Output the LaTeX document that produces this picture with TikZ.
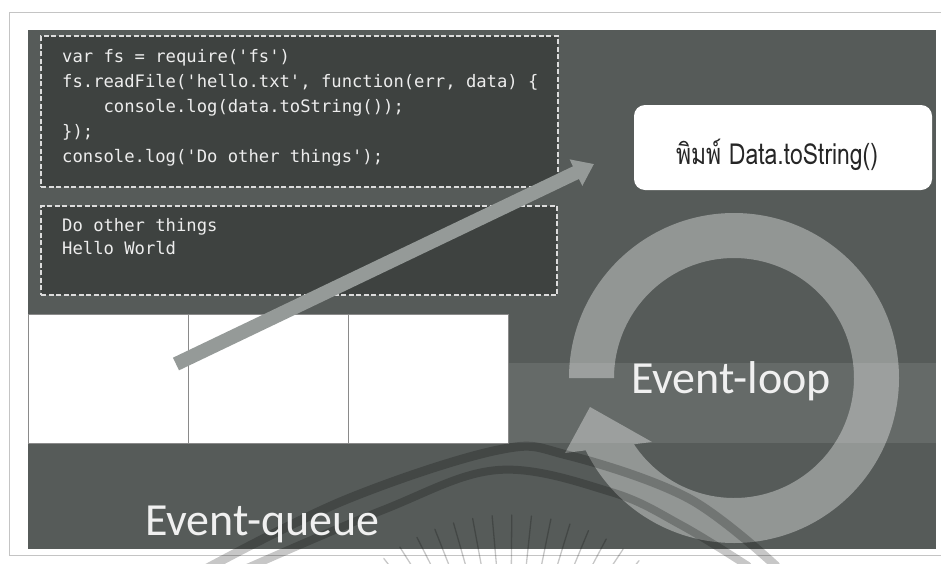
\documentclass[tikz,border=0pt]{standalone}
\usepackage{fontspec}
\usepackage{graphicx}
\usetikzlibrary{arrows.meta,calc}

\newfontfamily\codefont{DejaVu Sans Mono}
\newfontfamily\labelfont{Carlito}
\newfontfamily\thaifont[Script=Thai]{Loma}

\definecolor{slidebg}{HTML}{565B59}
\definecolor{boxbg}{HTML}{3E4240}
\definecolor{bandbg}{HTML}{656A68}
\definecolor{dashcol}{HTML}{DCDCDC}
\definecolor{codecol}{HTML}{EDEDED}
\definecolor{arrowcol}{HTML}{959A98}
\definecolor{cellline}{HTML}{8A8A8A}
\definecolor{framecol}{HTML}{C4C4C4}
\definecolor{printcol}{HTML}{262626}

\tikzset{
  codebox/.style={draw=dashcol, line width=1.6pt, dash pattern=on 5pt off 2.5pt,
    fill=boxbg, anchor=north west, inner sep=0pt, outer sep=0pt},
  codeline/.style={anchor=base west, inner sep=0pt, text=codecol,
    font=\codefont\fontsize{17.2}{20}\selectfont},
  cell/.style={draw=cellline, line width=0.8pt, fill=white, minimum width=160pt,
    minimum height=129pt, anchor=north west, inner sep=0pt, outer sep=0pt},
  bigword/.style={anchor=base west, inner sep=0pt, text=white!94!black,
    font=\labelfont\fontsize{46}{50}\selectfont},
  printbox/.style={fill=white, rounded corners=11pt, anchor=north west,
    minimum width=298pt, minimum height=85pt, inner sep=0pt, outer sep=0pt},
  seal/.style={black, opacity=0.22, line cap=round},
}

\begin{document}
\begin{tikzpicture}[x=1pt,y=-1pt]
\useasboundingbox (0,0) rectangle (943,563);
\fill[white] (0,0) rectangle (943,563);

% page frame
\draw[framecol, line width=0.8pt] (941,12) -- (9,12) -- (9,555) -- (941,555);

% slide background and the lighter band behind the queue row
\fill[slidebg] (28,30) rectangle (936,549);
\fill[bandbg] (28,363) rectangle (936,443);

% source code panel
\node[codebox, minimum width=517pt, minimum height=151pt] (code) at (41,36) {};
\node[codeline] (c1) at (62,62)  {var fs = require('fs')};
\node[codeline] (c2) at (62,87)  {fs.readFile('hello.txt', function(err, data) \{};
\node[codeline] (c3) at (62,112) {\ \ \ \ console.log(data.toString());};
\node[codeline] (c4) at (62,137) {\});};
\node[codeline] (c5) at (62,162) {console.log('Do other things');};

% console output panel
\node[codebox, minimum width=516pt, minimum height=89pt] (out) at (41,206) {};
\node[codeline] (o1) at (62,231) {Do other things};
\node[codeline] (o2) at (62,254) {Hello World};

% event queue cells
\node[cell] (q1) at (28,314) {};
\node[cell] (q2) at (188,314) {};
\node[cell] (q3) at (348,314) {};

% callback box
\node[printbox] (print) at (634,105) {};
\node[anchor=base, inner sep=0pt, text=printcol] (printtxt) at (777,164)
  {\resizebox{202pt}{\height}{\thaifont\fontsize{29}{34}\selectfont พิมพ์ Data.toString()}};

% event loop ring with its arrow head
\coordinate (lc) at (734,378);
\coordinate (hOut) at (565,453);
\coordinate (hTip) at (590,407);
\coordinate (hIn) at (652,442);
\fill[white, opacity=0.36]
  ($(lc)+(180:165)$) arc[start angle=180, end angle=514, radius=165]
  -- (hOut) -- (hTip) -- (hIn)
  -- ($(lc)+(506.5:120)$) arc[start angle=506.5, end angle=180, radius=120]
  -- cycle;

% arrow from the queue to the callback
\coordinate (tail) at (176,364);
\coordinate (head) at (594,164);
\draw[arrowcol, line width=14pt, -{Triangle[length=20pt, width=28pt]}] (tail) -- (head);

% faint seal printed over the page
\draw[seal, line width=9pt] plot[smooth, tension=0.6] coordinates
  {(200,572) (345,500) (498,450) (567,455) (688,498) (776,566)};
\draw[seal, line width=8pt] plot[smooth, tension=0.6] coordinates
  {(238,572) (383,510) (498,470) (611,492) (681,525) (748,566)};
\coordinate (sc) at (510,720);
\foreach \a in {232,237.5,...,310} {
  \draw[seal, line width=1.3pt] ($(sc)+(\a:150)$) -- ($(sc)+(\a:205)$);
}

% labels
\node[bigword] (loop) at (631,393) {Event-loop};
\node[bigword] (queue) at (145,535) {Event-queue};
\end{tikzpicture}
\end{document}
